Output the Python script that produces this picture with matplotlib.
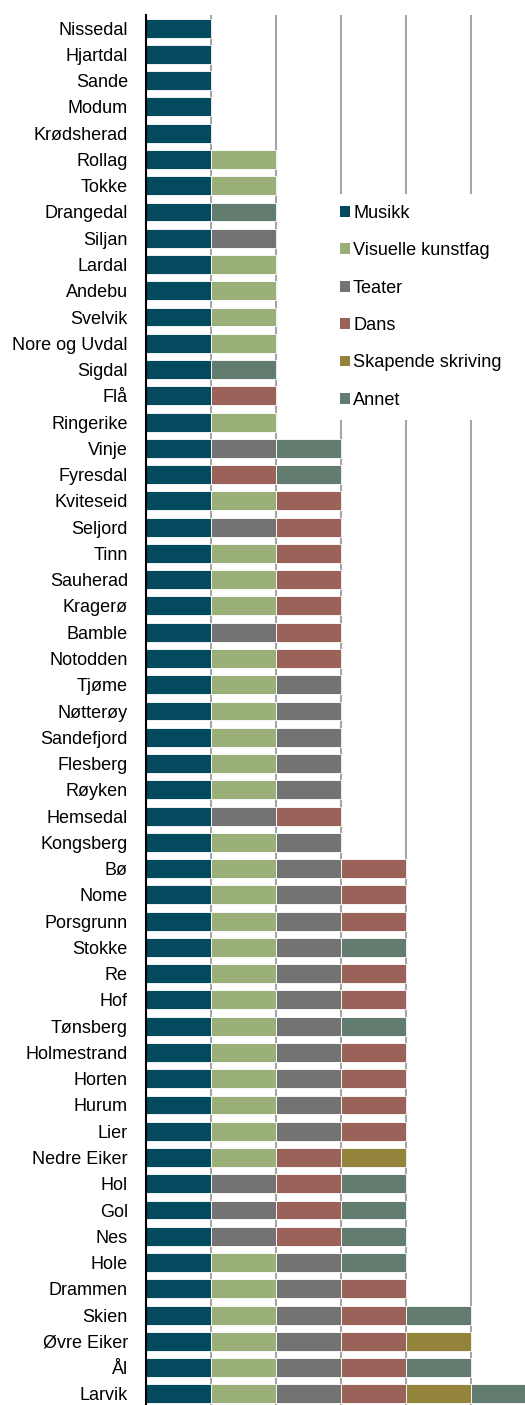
import matplotlib.pyplot as plt
from matplotlib.patches import Patch

plt.rcParams['font.family'] = ['Liberation Sans', 'DejaVu Sans']

# categories and colours
kategorier = ["Musikk", "Visuelle kunstfag", "Teater", "Dans", "Skapende skriving", "Annet"]
koder = ["M", "V", "T", "D", "S", "A"]
farger = ["#034a5f", "#9bb078", "#737373", "#9b625a", "#94833a", "#627d6f"]

# municipalities, top to bottom
kommuner = [
    "Nissedal", "Hjartdal", "Sande", "Modum", "Krødsherad", "Rollag", "Tokke",
    "Drangedal", "Siljan", "Lardal", "Andebu", "Svelvik", "Nore og Uvdal", "Sigdal",
    "Flå", "Ringerike", "Vinje", "Fyresdal", "Kviteseid", "Seljord", "Tinn",
    "Sauherad", "Kragerø", "Bamble", "Notodden", "Tjøme", "Nøtterøy", "Sandefjord",
    "Flesberg", "Røyken", "Hemsedal", "Kongsberg", "Bø", "Nome", "Porsgrunn",
    "Stokke", "Re", "Hof", "Tønsberg", "Holmestrand", "Horten", "Hurum", "Lier",
    "Nedre Eiker", "Hol", "Gol", "Nes", "Hole", "Drammen", "Skien", "Øvre Eiker",
    "Ål", "Larvik",
]

# art forms offered in each municipality (one segment per art form, in order)
tilbud = [
    "M", "M", "M", "M", "M", "MV", "MV",
    "MA", "MT", "MV", "MV", "MV", "MV", "MA",
    "MD", "MV", "MTA", "MDA", "MVD", "MTD", "MVD",
    "MVD", "MVD", "MTD", "MVD", "MVT", "MVT", "MVT",
    "MVT", "MVT", "MTD", "MVT", "MVTD", "MVTD", "MVTD",
    "MVTA", "MVTD", "MVTD", "MVTA", "MVTD", "MVTD", "MVTD", "MVTD",
    "MVDS", "MTDA", "MTDA", "MTDA", "MVTA", "MVTD", "MVTDA", "MVTDS",
    "MVTDA", "MVTDSA",
]

farge_for = dict(zip(koder, farger))

fig = plt.figure(figsize=(5.25, 14.05), dpi=100)
W, H = 525, 1405
x0, x1 = 146, 146 + 6 * 65
ytop, ybot = 15, 1407
ax = fig.add_axes([x0 / W, 1 - ybot / H, (x1 - x0) / W, (ybot - ytop) / H])

for i, (navn, rad) in enumerate(zip(kommuner, tilbud)):
    for j, k in enumerate(rad):
        ax.barh(i, 1, left=j, height=0.72, color=farge_for[k],
                edgecolor="white", linewidth=0.6, zorder=2)

ax.set_xlim(0, 6)
ax.set_ylim(len(kommuner) - 0.5, -0.5)
ax.set_yticks(range(len(kommuner)))
ax.set_yticklabels(kommuner, fontsize=13)
ax.set_xticks([1, 2, 3, 4, 5])
ax.tick_params(axis="x", length=0, labelbottom=False)
ax.tick_params(axis="y", length=0, pad=13)
ax.grid(axis="x", color="#a6a6a6", linewidth=1.5, zorder=0)
ax.set_axisbelow(True)
for s in ["top", "right", "bottom"]:
    ax.spines[s].set_visible(False)
ax.spines["left"].set_color("black")
ax.spines["left"].set_linewidth(1.5)
ax.spines["left"].set_zorder(3)

handles = [Patch(facecolor=c, edgecolor="none") for c in farger]
leg = fig.legend(handles, kategorier, loc="upper left",
                 bbox_to_anchor=(329 / W, 1 - 194 / H), frameon=True,
                 fontsize=13.1, handlelength=0.55, handleheight=0.55,
                 handletextpad=0.17, labelspacing=1.12, borderpad=0.6,
                 borderaxespad=0)
leg.get_frame().set_facecolor("white")
leg.get_frame().set_edgecolor("none")
leg.get_frame().set_alpha(1)
leg.set_zorder(5)

fig.savefig("out.png", dpi=100)
